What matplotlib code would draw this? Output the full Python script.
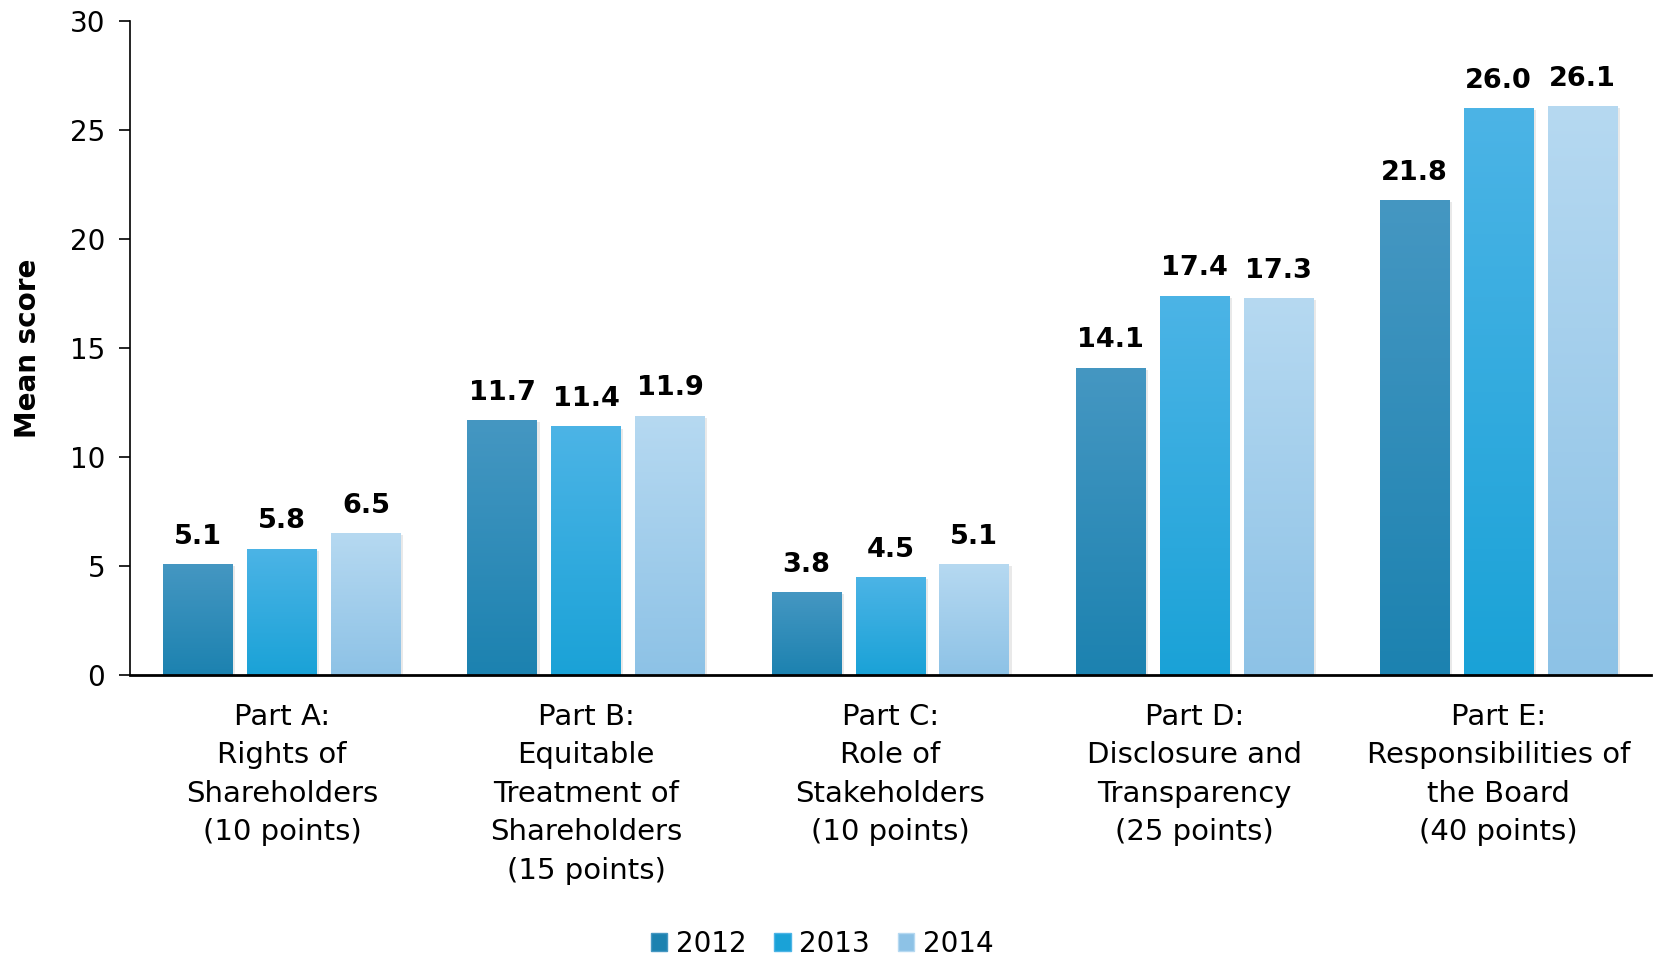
import numpy as np
import matplotlib
matplotlib.use('Agg')
import matplotlib.pyplot as plt
from matplotlib.patches import Patch
from matplotlib.colors import LinearSegmentedColormap

categories = ['Part A:\nRights of\nShareholders\n(10 points)',
              'Part B:\nEquitable\nTreatment of\nShareholders\n(15 points)',
              'Part C:\nRole of\nStakeholders\n(10 points)',
              'Part D:\nDisclosure and\nTransparency\n(25 points)',
              'Part E:\nResponsibilities of\nthe Board\n(40 points)']
years = ['2012', '2013', '2014']
scores_2012 = [5.1, 11.7, 3.8, 14.1, 21.8]
scores_2013 = [5.8, 11.4, 4.5, 17.4, 26.0]
scores_2014 = [6.5, 11.9, 5.1, 17.3, 26.1]

# gradient (top, bottom) per series
grads = [('#4597c2', '#1c82b0'),
         ('#4cb4e6', '#1aa2d7'),
         ('#b6d9f1', '#8dc2e6')]

plt.rcParams['font.family'] = ['DejaVu Sans']

fig = plt.figure(figsize=(16.54, 9.61), dpi=100)
ax = fig.add_axes([0.0786, 0.2976, 0.9194, 0.6806])

x = np.arange(len(categories))
offset = 0.276
width = 0.229
series = [scores_2012, scores_2013, scores_2014]
for j, (vals, (top, bot)) in enumerate(zip(series, grads)):
    cmap = LinearSegmentedColormap.from_list('g%d' % j, [bot, top])
    xs = x + (j - 1) * offset
    bars = ax.bar(xs, vals, width, color=top, zorder=2)
    for b, v in zip(bars, vals):
        # soft shadow
        ax.bar(b.get_x() + b.get_width() / 2 + 0.008, v - 0.1, width,
               color='#d0d0d0', alpha=0.45, zorder=1)
        grad = np.linspace(0, 1, 256).reshape(-1, 1)
        im = ax.imshow(grad, cmap=cmap, origin='lower', aspect='auto',
                       extent=[b.get_x(), b.get_x() + b.get_width(), 0, v],
                       zorder=3)
        im.set_clip_path(b)
        ax.text(b.get_x() + b.get_width() / 2, v + 0.65, '%.1f' % v,
                ha='center', va='bottom', fontsize=19.5, fontweight='bold',
                zorder=4)

ax.set_xlim(-0.5, 4.5)
ax.set_ylim(0, 30)
ax.set_yticks(range(0, 31, 5))
ax.set_xticks(x)
ax.set_xticklabels(categories, fontsize=21, va='top', linespacing=1.48)
ax.tick_params(axis='x', length=0, pad=20)
ax.tick_params(axis='y', labelsize=20, length=8, width=1.2, pad=10)
for s in ['top', 'right']:
    ax.spines[s].set_visible(False)
ax.spines['left'].set_linewidth(1.2)
ax.spines['bottom'].set_linewidth(2)
ax.spines['bottom'].set_zorder(5)
ax.set_ylabel('Mean score', fontsize=20, fontweight='bold', labelpad=20)

handles = [Patch(facecolor=g[1], edgecolor=g[0]) for g in grads]
fig.legend(handles, years, loc='center', bbox_to_anchor=(0.497, 0.018),
           ncol=3, frameon=False, fontsize=20, handlelength=0.6,
           handleheight=0.6, handletextpad=0.3, columnspacing=1.0)

fig.savefig('out.png', dpi=100)
